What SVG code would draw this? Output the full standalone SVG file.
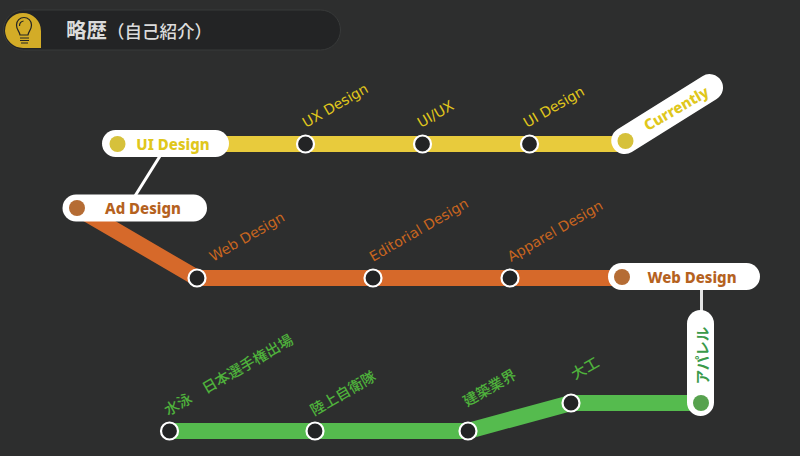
<svg xmlns="http://www.w3.org/2000/svg" width="800" height="456" viewBox="0 0 800 456">
<style>
.line{fill:none;stroke-width:16;stroke-linejoin:round}
.st{fill:#232425;stroke:#fff;stroke-width:2.200}
.pill{fill:#fff}
.lbl{font-family:"DejaVu Sans","Noto Sans CJK JP",sans-serif;font-size:14.1px}
.cjk{font-family:"Noto Sans CJK JP",sans-serif;font-size:14.6px;font-weight:500}
.nm{font-family:"Noto Sans","DejaVu Sans",sans-serif;font-size:15px;font-weight:800;text-anchor:middle;dominant-baseline:central}
.y{fill:#e0c71c}.o{fill:#c8651f}.g{fill:#4fb23c}
.b{fill:#b5621f}
</style>
<rect width="800" height="456" fill="#2d2e2e"/>
<g id="header">
<rect x="3.500" y="10" width="337" height="40" rx="20" fill="#232425" stroke="#383a3a"/>
<path d="M5 31a18 18 0 0 1 36 0V48H23A18 18 0 0 1 5 31Z" fill="#d3ac27"/>
<g fill="none" stroke="#232425" stroke-width="1.200"><path d="M20 35c-.5-4-3.500-5-3.500-10a7.500 7.500 0 0 1 15 0c0 5-3 6-3.500 10Z"/><path d="M20 38h9M20 40.500h9M21 43h7"/><path d="M19.500 26a5 5 0 0 1 4-5"/></g>
<text x="66" y="38" font-family="'Noto Sans CJK JP',sans-serif" font-weight="500" fill="#dcdcdc"><tspan font-size="20.500" font-weight="700">略歴</tspan><tspan font-size="17.500">（自己紹介）</tspan></text>
</g>
<g id="connectors">
<path class="line" stroke="#e8cb3c" d="M225 144H625"/>
<path class="line" stroke="#d6692a" d="M77 208L197 278H622"/>
<path class="line" stroke="#55bb4e" d="M169 431H468L571 403H701"/>
<path d="M160 156L135 196" stroke="#fff" stroke-width="3" fill="none"/>
<path d="M701.500 289V312" stroke="#e4e4e4" stroke-width="3" fill="none"/>
</g>
<g id="n-ui"><rect class="pill" x="102" y="130" width="127" height="27" rx="13.500"/><circle cx="117.500" cy="144" r="8" fill="#d6c13b"/><text class="nm y" x="173" y="143.500">UI Design</text></g>
<g id="n-ad"><rect class="pill" x="62.500" y="194.500" width="144.500" height="27" rx="13.500"/><circle cx="77" cy="208" r="8" fill="#b56c34"/><text class="nm b" x="143" y="208">Ad Design</text></g>
<g id="n-cur"><rect class="pill" x="611.500" y="127" width="127" height="27" rx="13.500" transform="rotate(-32 625 141)"/><circle cx="625.500" cy="141" r="8" fill="#d6c13b"/><text class="nm y" transform="translate(676 108) rotate(-30)">Currently</text></g>
<g id="n-web"><rect class="pill" x="608" y="263" width="152" height="27" rx="13.500"/><circle cx="622" cy="277" r="8" fill="#b56c34"/><text class="nm b" x="692" y="276.500">Web Design</text></g>
<g id="n-app"><rect class="pill" x="687" y="310" width="27" height="106" rx="13.500"/><circle cx="701" cy="403" r="8" fill="#57a24e"/><text transform="translate(701 355.500) rotate(-90)" font-family="'Noto Sans CJK JP',sans-serif" font-size="14.500" font-weight="700" fill="#3a9a4a" text-anchor="middle" dominant-baseline="central">アパレル</text></g>
<g id="s-y1"><circle class="st" cx="305.500" cy="144" r="8.500"/><text class="lbl y" transform="translate(306 128) rotate(-30)">UX Design</text></g>
<g id="s-y2"><circle class="st" cx="422.500" cy="144" r="8.500"/><text class="lbl y" transform="translate(421 128) rotate(-30)">UI/UX</text></g>
<g id="s-y3"><circle class="st" cx="529.500" cy="144" r="8.500"/><text class="lbl y" transform="translate(527 128) rotate(-30)">UI Design</text></g>
<g id="s-o1"><circle class="st" cx="197" cy="278" r="8.500"/><text class="lbl o" transform="translate(213 262) rotate(-30)">Web Design</text></g>
<g id="s-o2"><circle class="st" cx="373" cy="278" r="8.500"/><text class="lbl o" transform="translate(373 262) rotate(-30)">Editorial Design</text></g>
<g id="s-o3"><circle class="st" cx="510" cy="278" r="8.500"/><text class="lbl o" transform="translate(511 262) rotate(-30)">Apparel Design</text></g>
<g id="s-g1"><circle class="st" cx="169.500" cy="431" r="8.500"/><text class="cjk g" transform="translate(168 416) rotate(-30)">水泳　日本選手権出場</text></g>
<g id="s-g2"><circle class="st" cx="315" cy="431" r="8.500"/><text class="cjk g" transform="translate(314 416) rotate(-30)">陸上自衛隊</text></g>
<g id="s-g3"><circle class="st" cx="468" cy="431" r="8.500"/><text class="cjk g" transform="translate(467 407) rotate(-30)">建築業界</text></g>
<g id="s-g4"><circle class="st" cx="571" cy="403" r="8.500"/><text class="cjk g" transform="translate(575 380) rotate(-30)">大工</text></g>
</svg>
